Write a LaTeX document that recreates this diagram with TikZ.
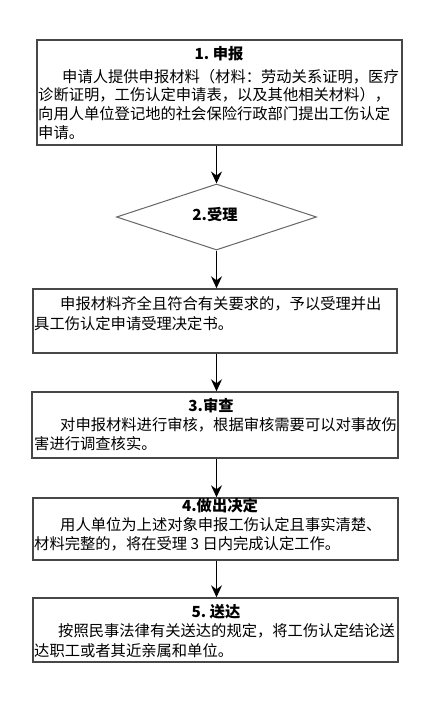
\documentclass[tikz,border=0pt]{standalone}
\usepackage{fontspec}
\setmainfont{Noto Sans CJK SC}
\usetikzlibrary{arrows.meta,shapes.geometric}
\begin{document}
\begin{tikzpicture}[x=1pt,y=-1pt,
  box/.style={draw=black!72,line width=1.4pt,inner sep=0pt,fill=white},
  dia/.style={diamond,draw=black!60,line width=1pt,inner sep=0pt,minimum width=200pt,minimum height=66pt},
  arr/.style={draw=black,line width=1.4pt,-{Stealth[length=12pt,width=11pt,inset=4pt]}},
  ttl/.style={inner sep=0pt,anchor=base,font=\fontsize{15.3}{19}\selectfont\bfseries},
  txt/.style={inner sep=0pt,anchor=base west,font=\fontsize{15.3}{19}\selectfont}]
\useasboundingbox[fill=white] (0,0) rectangle (441,709);

% boxes
\node[box,minimum width=365pt,minimum height=105pt] (b1) at (219.5,92.5) {};
\node[dia] (d) at (216.5,217) {};
\node[box,minimum width=364pt,minimum height=64pt] (b2) at (215,321) {};
\node[box,minimum width=366pt,minimum height=66pt] (b3) at (215,425) {};
\node[box,minimum width=365pt,minimum height=62pt] (b4) at (215.5,529) {};
\node[box,minimum width=365pt,minimum height=64pt] (b5) at (215.5,630) {};

% texts
\node[ttl] (t1) at (219,59.8) {1.~申报};
\node[txt] (x1) at (38,82.3) {\parbox[t]{362pt}{\raggedright\baselineskip=18.6pt
\hspace*{24pt}申请人提供申报材料（材料：劳动关系证明，医疗\\
诊断证明，工伤认定申请表，以及其他相关材料），\\
向用人单位登记地的社会保险行政部门提出工伤认定\\
申请。}};

\node[ttl] (t2) at (215,220.8) {2.受理};

\node[txt] (x2) at (34,309.3) {\parbox[t]{362pt}{\raggedright\baselineskip=20pt
\hspace*{26pt}申报材料齐全且符合有关要求的，予以受理并出\\
具工伤认定申请受理决定书。}};

\node[ttl] (t3) at (211,411.8) {3.审查};
\node[txt] (x3) at (34,430.8) {\parbox[t]{362pt}{\raggedright\baselineskip=18.7pt
\hspace*{26pt}对申报材料进行审核，根据审核需要可以对事故伤\\
害进行调查核实。}};

\node[ttl] (t4) at (220,511.8) {4.做出决定};
\node[txt] (x4) at (34,530.8) {\parbox[t]{362pt}{\raggedright\baselineskip=18.3pt
\hspace*{26pt}用人单位为上述对象申报工伤认定且事实清楚、\\
材料完整的，将在受理 3 日内完成认定工作。}};

\node[ttl] (t5) at (216,617.3) {5.~送达};
\node[txt] (x5) at (34,636.8) {\parbox[t]{362pt}{\raggedright\baselineskip=20pt
\hspace*{24pt}按照民事法律有关送达的规定，将工伤认定结论送\\
达职工或者其近亲属和单位。}};

% connectors
\draw[arr] (b1.south -| d.north) -- (d.north);
\draw[arr] (d.south) -- (d.south |- b2.north);
\draw[arr] (b2.south -| d.south) -- (d.south |- b3.north);
\draw[arr] (b3.south -| d.south) -- (d.south |- b4.north);
\draw[arr] (b4.south -| d.south) -- (d.south |- b5.north);
\end{tikzpicture}
\end{document}
